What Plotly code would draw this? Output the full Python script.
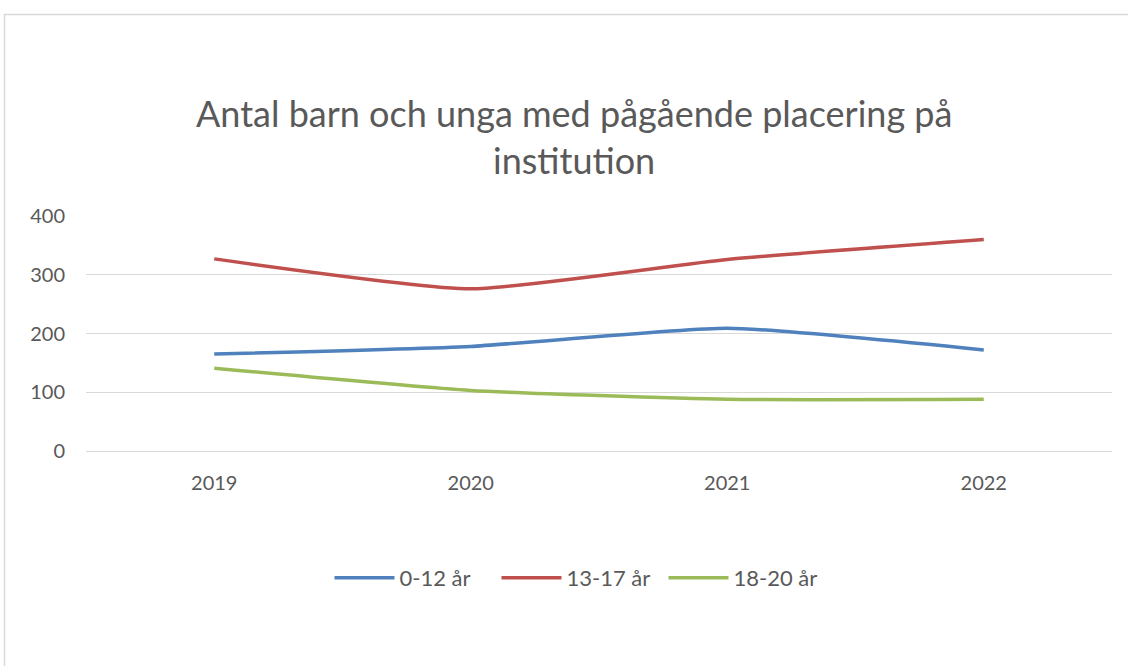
import plotly.graph_objects as go

years = ["2019", "2020", "2021", "2022"]
series_names = ["0-12 år", "13-17 år", "18-20 år"]
v_0_12 = [165, 178, 209, 172]
v_13_17 = [327, 276, 326, 360]
v_18_20 = [141, 103, 88, 88]
colors = ["#4F81BD", "#C0504D", "#9BBB59"]
title_lines = ["Antal barn och unga med pågående placering på", "institution"]

fig = go.Figure()
for name, vals, col in zip(series_names, [v_0_12, v_13_17, v_18_20], colors):
    fig.add_trace(go.Scatter(x=years, y=vals, name=name, mode="lines",
                             line=dict(color=col, width=3.5, shape="spline", smoothing=0.5)))

W, H = 1128, 666
L, R, T, B = 86, 16, 216, 215
pw, ph = W - L - R, H - T - B

def px2x(p):
    return (p - L) / pw

def py2y(p):
    return (H - B - p) / ph

fig.update_layout(
    width=W, height=H,
    margin=dict(l=L, r=R, t=T, b=B),
    plot_bgcolor="white", paper_bgcolor="white",
    font=dict(family="Lato, Calibri, sans-serif", color="#595959"),
    showlegend=True,
    legend=dict(orientation="h", x=px2x(580), xanchor="center", y=py2y(578), yanchor="middle",
                font=dict(size=22, color="#595959"), itemwidth=60, entrywidth=92,
                traceorder="normal"),
    xaxis=dict(type="category", showgrid=False, showline=False, zeroline=False,
               ticks="", tickfont=dict(size=20, color="#595959"), ticklabelstandoff=18,
               range=[-0.5, 3.5]),
    yaxis=dict(range=[0, 400], dtick=100, showgrid=True, gridcolor="#d9d9d9", gridwidth=1,
               zeroline=True, zerolinecolor="#d9d9d9", zerolinewidth=1, showline=False, ticks="",
               tickfont=dict(size=20, color="#595959"), ticklabelstandoff=20),
)

fig.add_annotation(text=title_lines[0], xref="paper", yref="paper", x=px2x(574), y=py2y(113),
                   showarrow=False, xanchor="center", yanchor="middle",
                   font=dict(size=36, color="#595959"))
fig.add_annotation(text=title_lines[1], xref="paper", yref="paper", x=px2x(574), y=py2y(160),
                   showarrow=False, xanchor="center", yanchor="middle",
                   font=dict(size=36, color="#595959"))

fig.add_shape(type="rect", xref="paper", yref="paper",
              x0=px2x(4.5), x1=px2x(1135), y0=py2y(14.5), y1=py2y(680),
              line=dict(color="#d9d9d9", width=1.5), fillcolor="rgba(0,0,0,0)", layer="below")

fig.write_html("out.html", config={"displayModeBar": False},
               post_script="document.body.style.margin='0';")
